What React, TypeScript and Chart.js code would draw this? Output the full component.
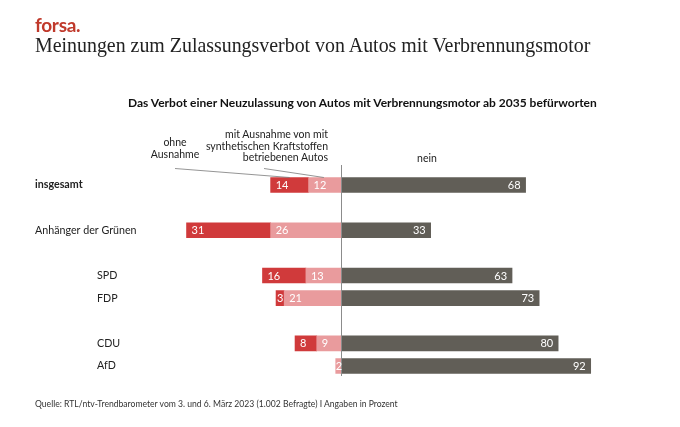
import React, { useEffect, useRef } from "react";
import { Chart, registerables } from "chart.js";

Chart.register(...registerables);

const categories = ["insgesamt", "", "Anhänger der Grünen", "", "SPD", "FDP", "", "CDU", "AfD"];
const mitAusnahme: (number | null)[] = [12, null, 26, null, 13, 21, null, 9, 2];
const ohneAusnahme: (number | null)[] = [14, null, 31, null, 16, 3, null, 8, null];
const nein: (number | null)[] = [68, null, 33, null, 63, 73, null, 80, 92];
const boldCategories = ["insgesamt"];
const subCategories = ["SPD", "FDP", "CDU", "AfD"];

const RED = "#d03a3b";
const PINK = "#e99b9d";
const DARK = "#615e57";
const FONT = "Lato, 'Noto Sans', sans-serif";

const neg = (arr: (number | null)[]) => arr.map((v) => (v == null ? null : -v));

const overlayPlugin = {
  id: "overlay",
  afterDatasetsDraw(chart: any) {
    const ctx = chart.ctx;
    const x = chart.scales.x;
    const y = chart.scales.y;
    const zero = x.getPixelForValue(0);
    // zero line
    ctx.save();
    ctx.strokeStyle = "#8c8c8c";
    ctx.lineWidth = 1;
    ctx.beginPath();
    ctx.moveTo(Math.round(zero) + 0.5, y.getPixelForValue(0) - 20);
    ctx.lineTo(Math.round(zero) + 0.5, y.getPixelForValue(categories.length - 1) + 10);
    ctx.stroke();

    // leader lines to the first row
    const meta0 = chart.getDatasetMeta(0).data[0];
    const meta1 = chart.getDatasetMeta(1).data[0];
    const top = meta0.y - meta0.height / 2;
    ctx.strokeStyle = "#7a7a7a";
    ctx.lineWidth = 0.8;
    ctx.beginPath();
    ctx.moveTo(175, top - 9);
    ctx.lineTo((meta1.x + meta1.base) / 2, top);
    ctx.moveTo(264, top - 9);
    ctx.lineTo((meta0.x + meta0.base) / 2 - 1, top);
    ctx.stroke();

    // category labels
    ctx.textBaseline = "middle";
    ctx.textAlign = "left";
    categories.forEach((c, i) => {
      if (!c) return;
      const yy = y.getPixelForValue(i);
      ctx.font = (boldCategories.includes(c) ? "bold " : "") + "10.7px " + FONT;
      ctx.fillStyle = "#222";
      ctx.fillText(c, subCategories.includes(c) ? 97 : 35, yy);
    });

    // value labels
    ctx.font = "11px " + FONT;
    ctx.fillStyle = "#ffffff";
    chart.data.datasets.forEach((ds: any, di: number) => {
      const meta = chart.getDatasetMeta(di);
      meta.data.forEach((el: any, i: number) => {
        const v = ds.data[i];
        if (v == null) return;
        const txt = String(Math.abs(v));
        const left = Math.min(el.x, el.base);
        const right = Math.max(el.x, el.base);
        const w = ctx.measureText(txt).width;
        if (di === 2) {
          ctx.textAlign = "right";
          ctx.fillText(txt, right - 5, el.y + 0.5);
        } else {
          const pad = Math.max(0, Math.min(5, (right - left - w) / 2));
          ctx.textAlign = "left";
          ctx.fillText(txt, left + pad, el.y + 0.5);
        }
      });
    });
    ctx.restore();
  },
};

export default function App() {
  const ref = useRef<HTMLCanvasElement | null>(null);
  useEffect(() => {
    if (!ref.current) return;
    const chart = new Chart(ref.current, {
      type: "bar",
      data: {
        labels: categories,
        datasets: [
          { label: "mit Ausnahme", data: neg(mitAusnahme), backgroundColor: PINK, barThickness: 15 },
          { label: "ohne Ausnahme", data: neg(ohneAusnahme), backgroundColor: RED, barThickness: 15 },
          { label: "nein", data: nein, backgroundColor: DARK, barThickness: 15 },
        ],
      },
      options: {
        indexAxis: "y",
        animation: false,
        responsive: true,
        maintainAspectRatio: false,
        layout: { padding: { left: 178.4, right: 67.6, top: 173.7, bottom: 49.7 } },
        scales: {
          x: { stacked: true, min: -60, max: 100, display: false },
          y: { stacked: true, display: false },
        },
        plugins: { legend: { display: false }, tooltip: { enabled: false } },
      },
      plugins: [overlayPlugin],
    });
    return () => chart.destroy();
  }, []);

  const abs = (s: React.CSSProperties): React.CSSProperties => ({ position: "absolute", whiteSpace: "nowrap", ...s });

  return (
    <div style={{ position: "absolute", left: 0, top: 0, width: 680, height: 427, background: "#fff", fontFamily: FONT, color: "#222" }}>
      <canvas ref={ref} style={{ position: "absolute", left: 0, top: 0 }} />
      <div style={abs({ left: 35, top: 13, fontSize: 19, fontWeight: 700, color: "#c0392b", letterSpacing: -0.3 })}>forsa.</div>
      <div style={abs({ left: 35, top: 34, fontSize: 19.9, fontFamily: "'Liberation Serif', 'DejaVu Serif', serif", color: "#222" })}>
        Meinungen zum Zulassungsverbot von Autos mit Verbrennungsmotor
      </div>
      <div style={abs({ left: 128, top: 95, fontSize: 12, fontWeight: 700, color: "#111" })}>
        Das Verbot einer Neuzulassung von Autos mit Verbrennungsmotor ab 2035 befürworten
      </div>
      <div style={abs({ left: 140, top: 136, width: 70, textAlign: "center", fontSize: 10.5, lineHeight: "12px" })}>
        ohne<br />Ausnahme
      </div>
      <div style={abs({ left: 200, top: 129, width: 128, textAlign: "right", fontSize: 10.5, lineHeight: "11.5px" })}>
        mit Ausnahme von mit<br />synthetischen Kraftstoffen<br />betriebenen Autos
      </div>
      <div style={abs({ left: 400, top: 152, width: 54, textAlign: "center", fontSize: 10.5 })}>nein</div>
      <div style={abs({ left: 35, top: 399, fontSize: 8.6, color: "#333" })}>
        Quelle: RTL/ntv-Trendbarometer vom 3. und 6. März 2023 (1.002 Befragte) I Angaben in Prozent
      </div>
    </div>
  );
}
